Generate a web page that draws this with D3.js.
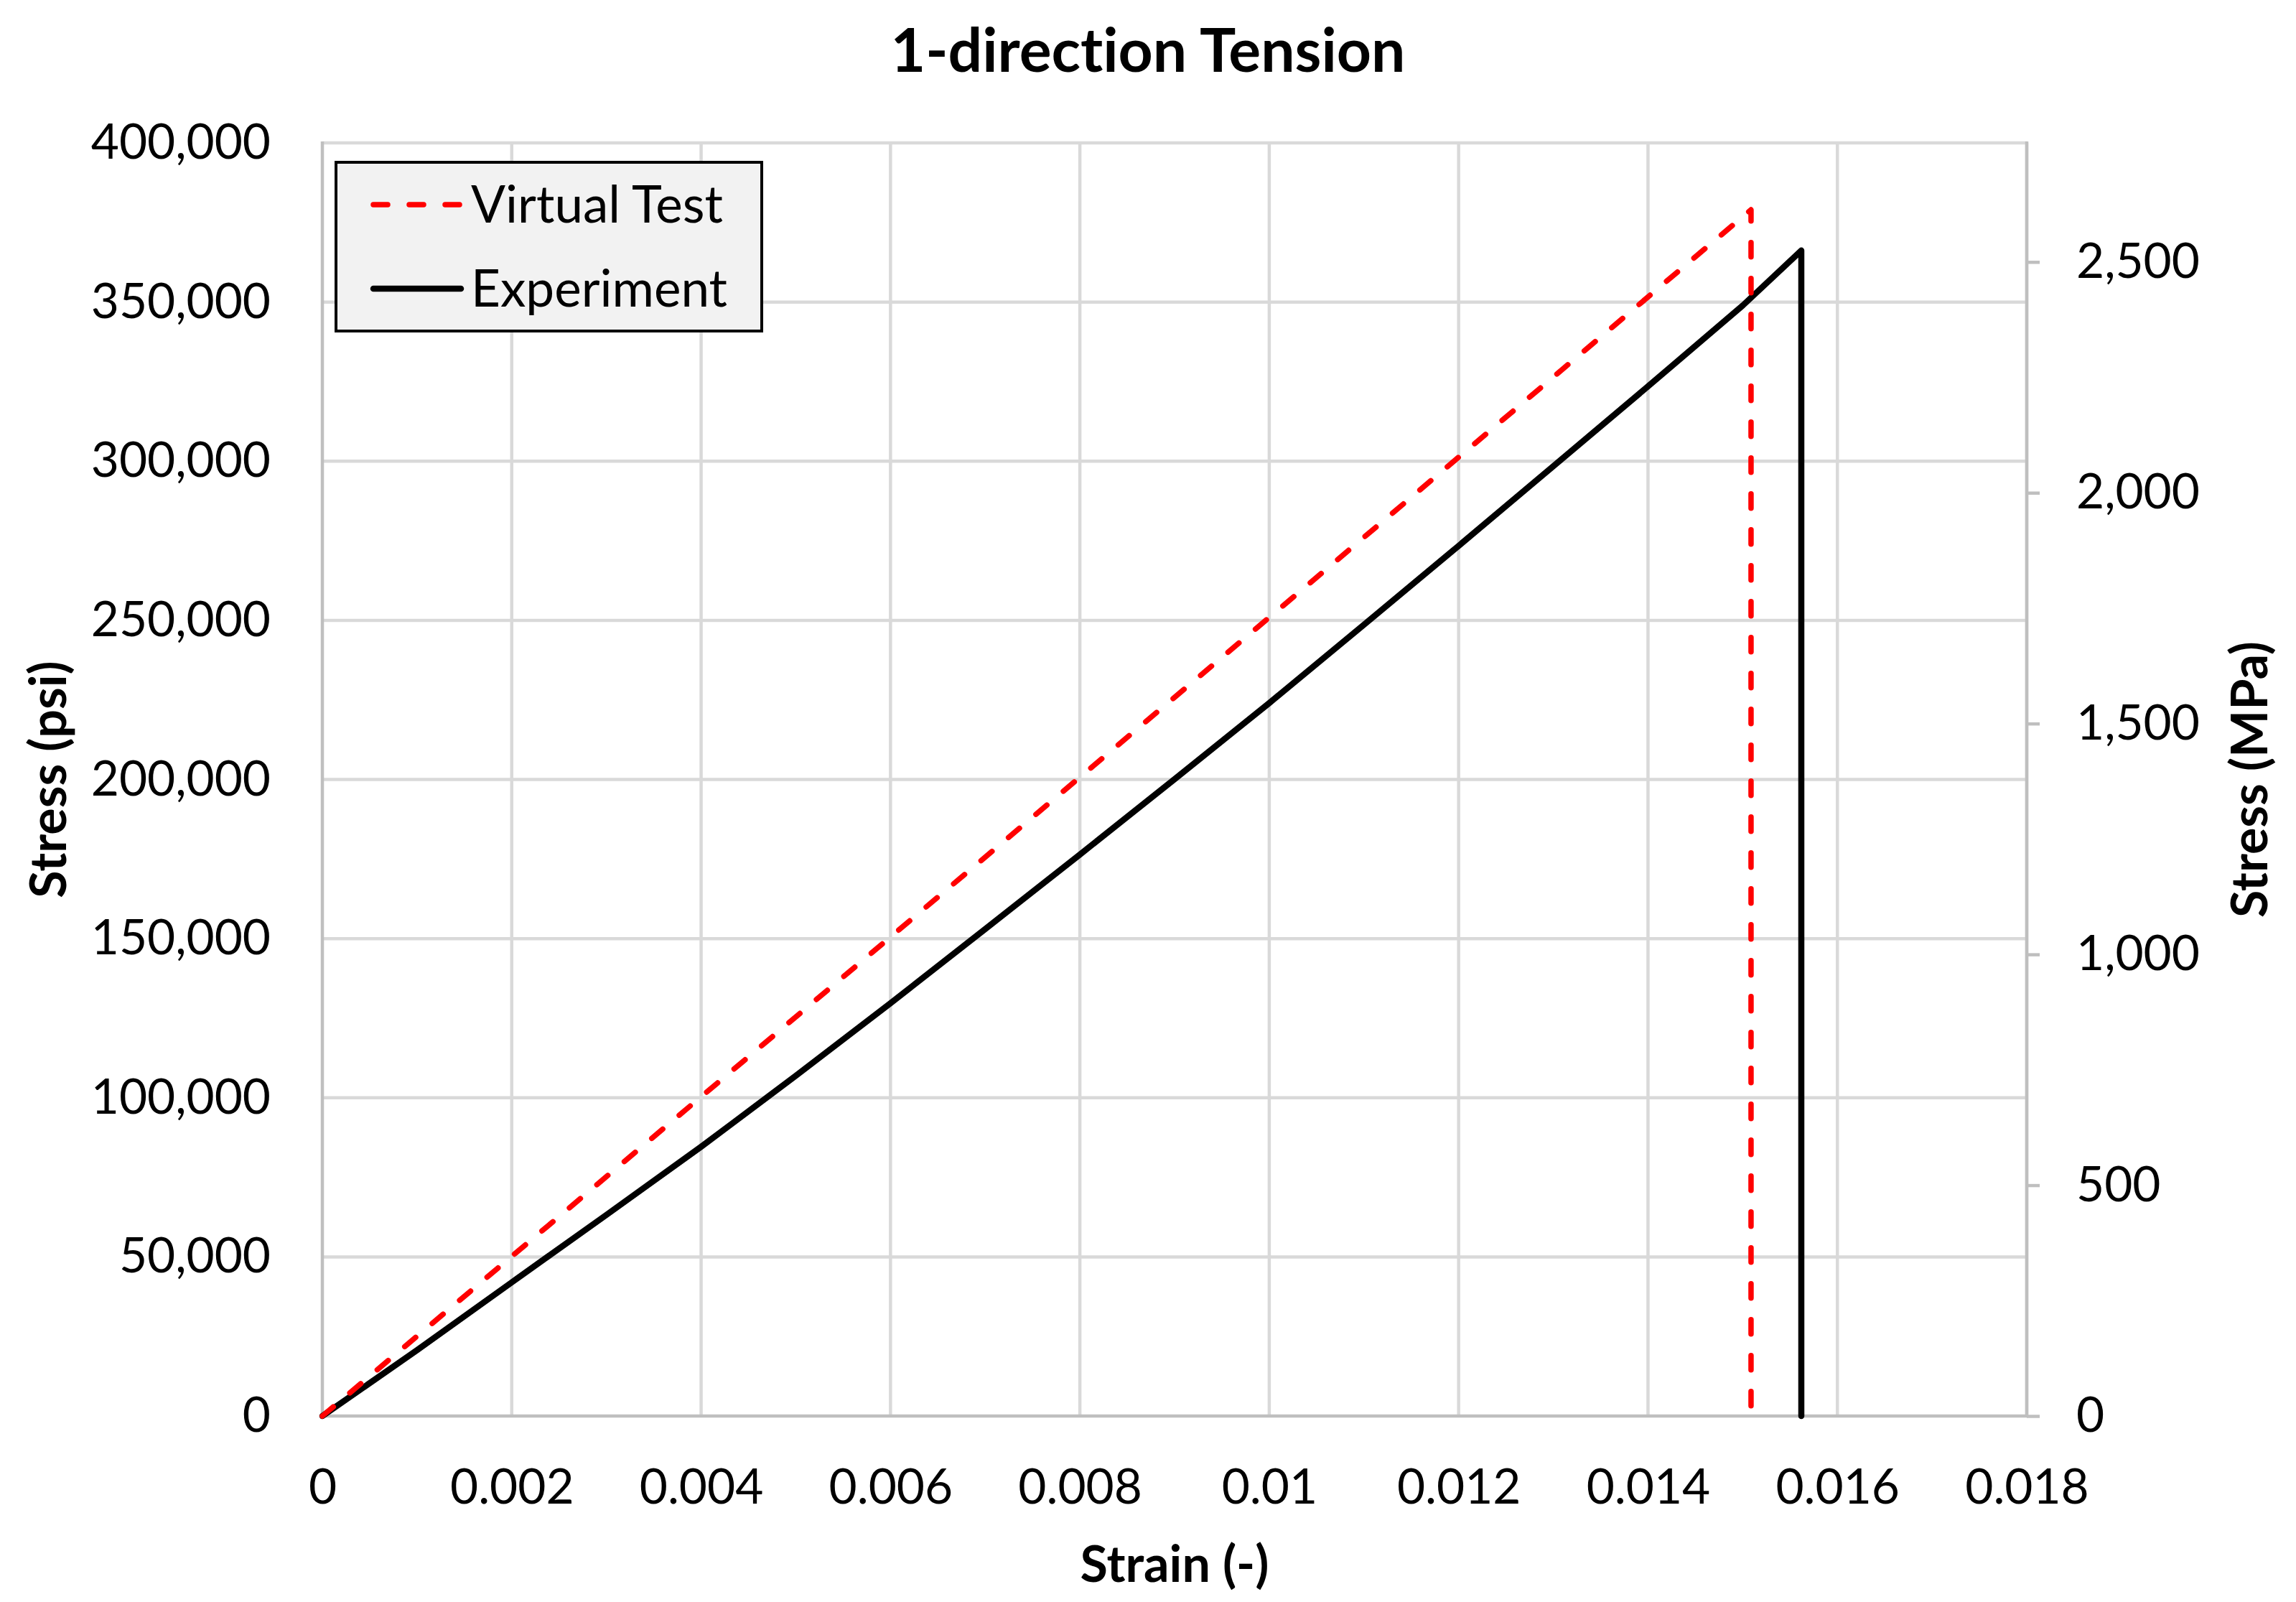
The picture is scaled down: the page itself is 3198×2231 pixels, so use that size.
<!DOCTYPE html>
<html>
<head>
<meta charset="utf-8">
<script src="https://cdn.jsdelivr.net/npm/d3@7"></script>
<style>
  body { margin: 0; background: #fff; }
  text { font-family: Lato, "Open Sans", sans-serif; fill: #000; font-variant-ligatures: none; }
</style>
</head>
<body>
<div id="chart"></div>
<script>
// chart data
var chartTitle = "1-direction Tension";
var xTitle = "Strain (-)";
var yTitle = "Stress (psi)";
var y2Title = "Stress (MPa)";
var seriesNames = ["Virtual Test", "Experiment"];

var virtualStrain = [0, 0.004, 0.01, 0.015088, 0.015088];
var virtualStress = [0, 100300, 250900, 379000, 0];

var experimentStrain = [0, 0.001, 0.002, 0.003, 0.004, 0.005, 0.006, 0.007, 0.008, 0.009, 0.01,
                        0.011, 0.012, 0.013, 0.014, 0.015, 0.015619, 0.015619];
var experimentStress = [0, 20700, 42000, 63200, 84600, 106900, 129700, 153000, 176400, 200100, 224000,
                        248600, 273400, 298400, 323500, 348900, 366200, 0];

var xTicks = [0, 0.002, 0.004, 0.006, 0.008, 0.01, 0.012, 0.014, 0.016, 0.018];
var xTickLabels = ["0", "0.002", "0.004", "0.006", "0.008", "0.01", "0.012", "0.014", "0.016", "0.018"];
var psiTicks = [0, 50000, 100000, 150000, 200000, 250000, 300000, 350000, 400000];
var mpaTicks = [0, 500, 1000, 1500, 2000, 2500];
var psiPerMpa = 145.038;

var W = 3198, H = 2231;
var m = {top: 199, right: 375, bottom: 259, left: 449}; // top right bottom left
var w = W - m.left - m.right,
    h = H - m.top - m.bottom;
var tickFont = 67.5, titleFont = 70, legendFont = 71;

var svg = d3.select("#chart").append("svg")
    .attr("width", W)
    .attr("height", H);

svg.append("rect").attr("width", W).attr("height", H).attr("fill", "#fff");

// scales
var x = d3.scaleLinear().domain([0, 0.018]).range([m.left, m.left + w]);
var y = d3.scaleLinear().domain([0, 400000]).range([m.top + h, m.top]);
var y2 = d3.scaleLinear().domain([0, 400000 / psiPerMpa]).range([m.top + h, m.top]);

// gridlines
var grid = svg.append("g").attr("class", "grid");
grid.selectAll(".vgrid")
  .data(xTicks.slice(1))
  .enter().append("line")
  .attr("x1", function(d) { return x(d); })
  .attr("x2", function(d) { return x(d); })
  .attr("y1", m.top)
  .attr("y2", m.top + h)
  .attr("stroke", "#d9d9d9")
  .attr("stroke-width", 4.5);
grid.selectAll(".hgrid")
  .data(psiTicks.slice(1))
  .enter().append("line")
  .attr("x1", m.left)
  .attr("x2", m.left + w)
  .attr("y1", function(d) { return y(d); })
  .attr("y2", function(d) { return y(d); })
  .attr("stroke", "#d9d9d9")
  .attr("stroke-width", 4.5);

// axes
var xAxis = d3.axisBottom(x)
  .tickValues(xTicks)
  .tickFormat(function(d, i) { return xTickLabels[i]; })
  .tickSize(0)
  .tickPadding(74);
var gx = svg.append("g")
  .attr("transform", "translate(0," + (m.top + h) + ")")
  .call(xAxis);

var yAxis = d3.axisLeft(y)
  .tickValues(psiTicks)
  .tickFormat(d3.format(","))
  .tickSize(0)
  .tickPadding(72);
var gy = svg.append("g")
  .attr("transform", "translate(" + m.left + ",0)")
  .call(yAxis);

var y2Axis = d3.axisRight(y2)
  .tickValues(mpaTicks)
  .tickFormat(d3.format(","))
  .tickSize(18)
  .tickPadding(51);
var gy2 = svg.append("g")
  .attr("transform", "translate(" + (m.left + w) + ",0)")
  .call(y2Axis);

[gx, gy, gy2].forEach(function(g) {
  g.select(".domain").remove();
  g.selectAll("text").attr("font-size", tickFont).attr("fill", "#000");
  g.selectAll(".tick line").attr("stroke", "#bfbfbf").attr("stroke-width", 4.5);
});

// axis lines
svg.append("line")
  .attr("x1", m.left).attr("x2", m.left)
  .attr("y1", m.top - 2).attr("y2", m.top + h)
  .attr("stroke", "#bfbfbf").attr("stroke-width", 4.5);
svg.append("line")
  .attr("x1", m.left + w).attr("x2", m.left + w)
  .attr("y1", m.top - 2).attr("y2", m.top + h)
  .attr("stroke", "#bfbfbf").attr("stroke-width", 4.5);
svg.append("line")
  .attr("x1", m.left - 2).attr("x2", m.left + w + 2)
  .attr("y1", m.top + h).attr("y2", m.top + h)
  .attr("stroke", "#bfbfbf").attr("stroke-width", 4.5);

// series
var line = d3.line()
  .x(function(d) { return x(d[0]); })
  .y(function(d) { return y(d[1]); });

var experiment = d3.zip(experimentStrain, experimentStress);
var virtual = d3.zip(virtualStrain, virtualStress);

svg.append("path")
  .datum(experiment)
  .attr("d", line)
  .attr("fill", "none")
  .attr("stroke", "#000")
  .attr("stroke-width", 8.5)
  .attr("stroke-linejoin", "round")
  .attr("stroke-linecap", "round");

svg.append("path")
  .datum(virtual)
  .attr("d", line)
  .attr("fill", "none")
  .attr("stroke", "#ff0000")
  .attr("stroke-width", 7.5)
  .attr("stroke-dasharray", "20,30")
  .attr("stroke-linejoin", "round")
  .attr("stroke-linecap", "round");

// titles
svg.append("text")
  .text(chartTitle)
  .attr("x", W / 2)
  .attr("y", 100)
  .attr("text-anchor", "middle")
  .attr("font-size", 84)
  .attr("font-weight", "bold");

svg.append("text")
  .text(xTitle)
  .attr("x", m.left + w / 2)
  .attr("y", 2203)
  .attr("text-anchor", "middle")
  .attr("font-size", titleFont)
  .attr("font-weight", "bold");

svg.append("text")
  .text(yTitle)
  .attr("transform", "translate(92," + (m.top + h / 2) + ") rotate(-90)")
  .attr("text-anchor", "middle")
  .attr("font-size", titleFont)
  .attr("font-weight", "bold");

svg.append("text")
  .text(y2Title)
  .attr("transform", "translate(3158," + (m.top + h / 2) + ") rotate(-90)")
  .attr("text-anchor", "middle")
  .attr("font-size", titleFont)
  .attr("font-weight", "bold");

// legend
var legend = svg.append("g").attr("class", "legend");
legend.append("rect")
  .attr("x", 468).attr("y", 226)
  .attr("width", 593).attr("height", 235)
  .attr("fill", "#f2f2f2")
  .attr("stroke", "#000")
  .attr("stroke-width", 4);

var legendRows = legend.selectAll(".row")
  .data(seriesNames)
  .enter().append("g")
  .attr("transform", function(d, i) { return "translate(0," + (285 + i * 117) + ")"; });

legendRows.append("line")
  .attr("x1", 520).attr("x2", 642)
  .attr("y1", 0).attr("y2", 0)
  .attr("stroke", function(d, i) { return i === 0 ? "#ff0000" : "#000"; })
  .attr("stroke-width", function(d, i) { return i === 0 ? 7.5 : 8.5; })
  .attr("stroke-dasharray", function(d, i) { return i === 0 ? "20,30" : null; })
  .attr("stroke-linecap", "round");

legendRows.append("text")
  .text(function(d) { return d; })
  .attr("x", 656)
  .attr("y", 25)
  .attr("font-size", legendFont);
</script>
</body>
</html>
